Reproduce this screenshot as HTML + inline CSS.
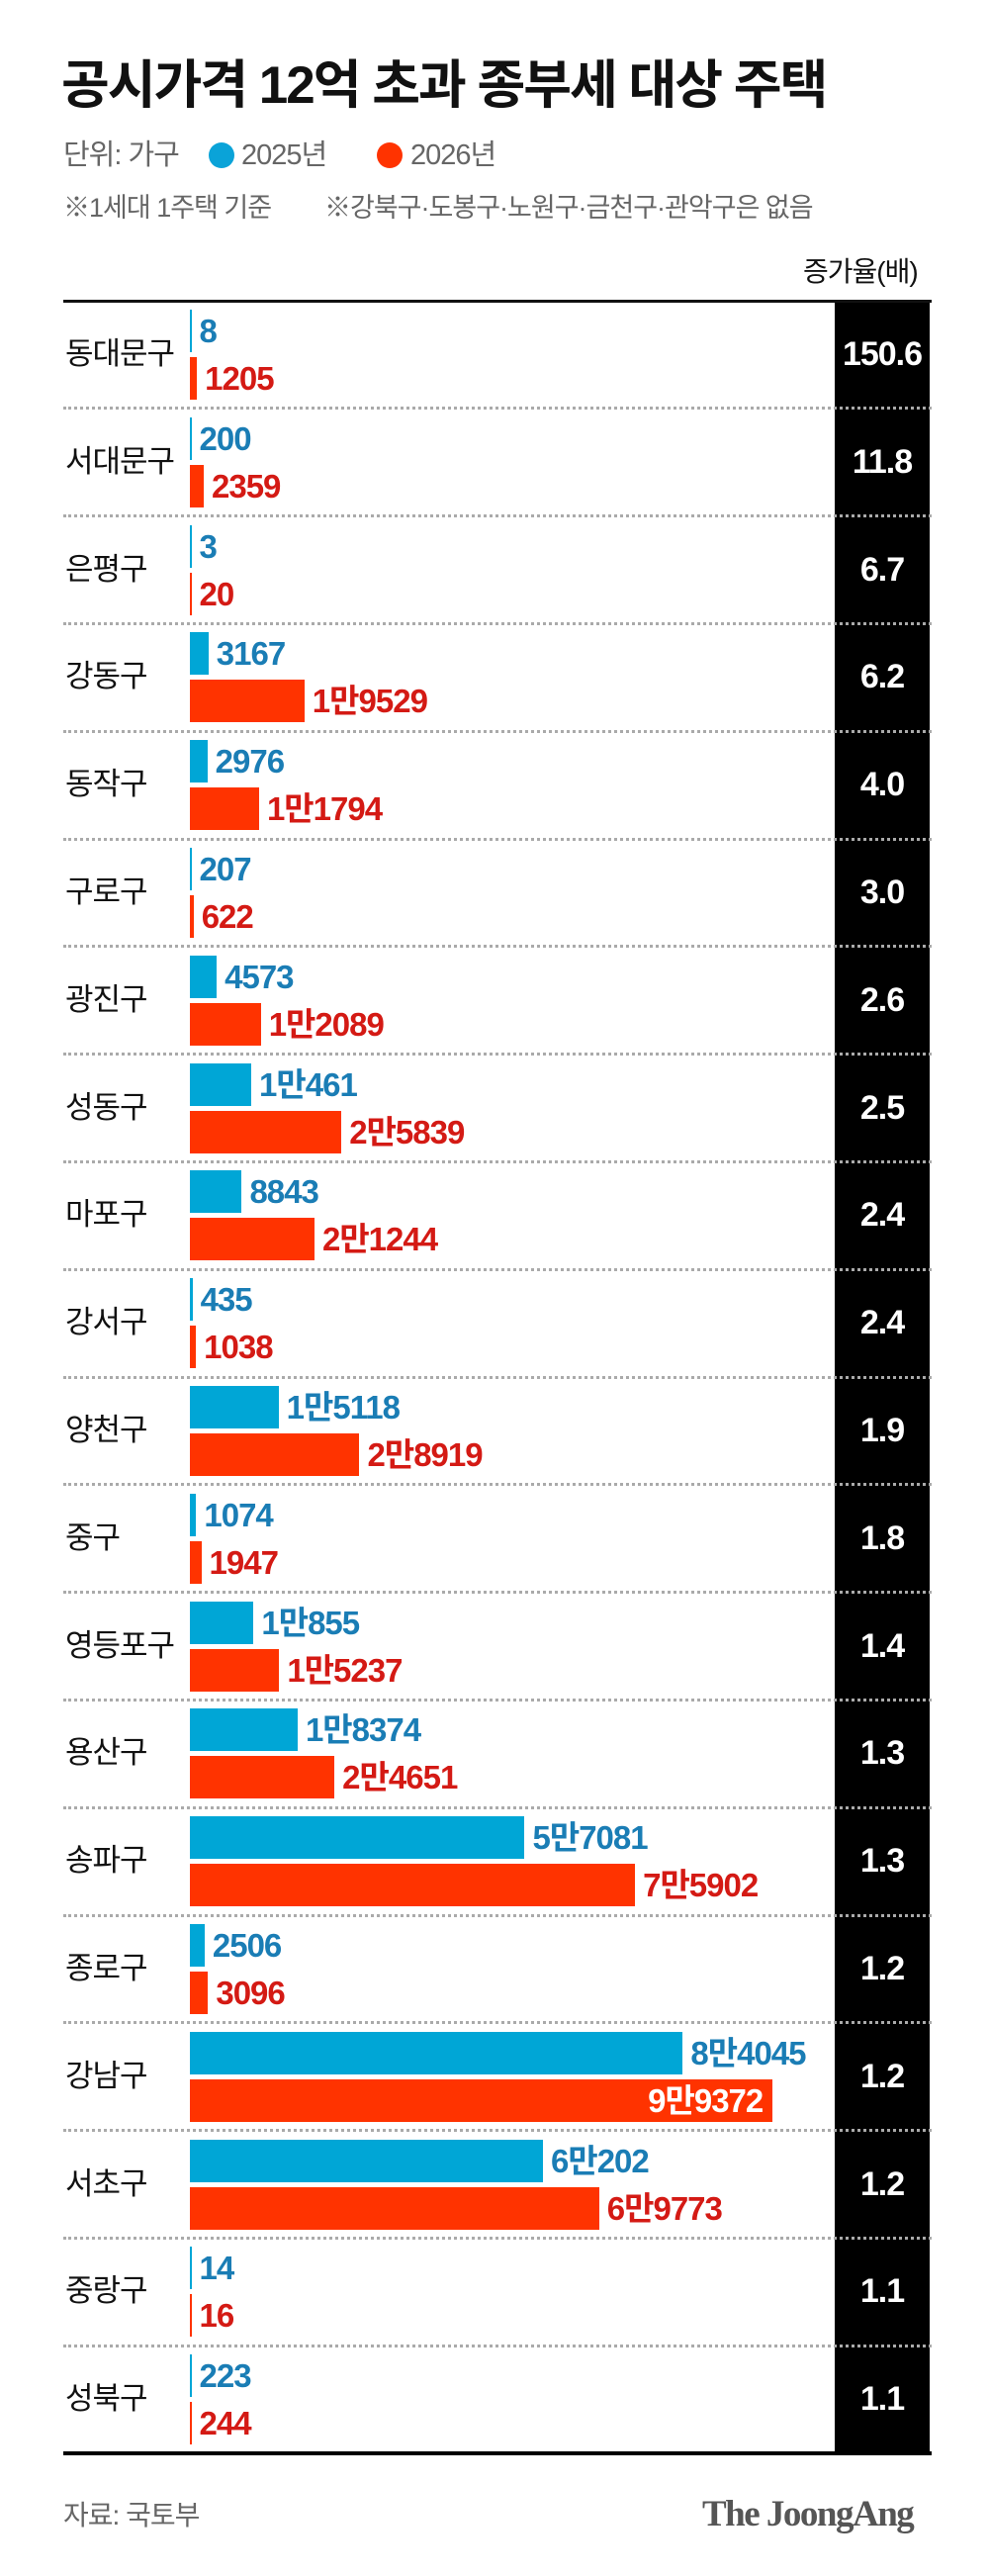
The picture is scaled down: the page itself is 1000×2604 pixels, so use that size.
<!DOCTYPE html>
<html><head><meta charset="utf-8"><style>
*{margin:0;padding:0;box-sizing:border-box}
body{width:1000px;height:2604px;background:#fff;position:relative;overflow:hidden;font-family:"Liberation Sans","Noto Sans CJK KR",sans-serif}
.a{position:absolute;white-space:nowrap}
.title{left:62px;top:52px;font-size:53px;font-weight:bold;color:#111;letter-spacing:-2px;line-height:70px}
.leg{top:140px;font-size:29px;color:#666;line-height:34px;letter-spacing:-1px}
.note{top:193px;font-size:27px;color:#666;line-height:34px;letter-spacing:-1px}
.dot{width:26px;height:26px;border-radius:50%}
.lbl{left:66px;font-size:31px;color:#111;line-height:40px;letter-spacing:-1px}
.bar{left:192px;height:43px}
.b{background:#00a6d6}.r{background:#ff3300}
.v{font-size:33px;font-weight:bold;line-height:43px;letter-spacing:-1px}
.vb{color:#1a7db5}.vr{color:#d41a14}
.sep{left:64px;width:878px;height:0;border-top:3px dotted #aaa}
.rat{left:844px;width:96px;text-align:center;color:#fff;font-size:34px;font-weight:bold;line-height:40px;letter-spacing:-1px}
</style></head><body>
<div class="a title">공시가격 12억 초과 종부세 대상 주택</div>
<div class="a leg" style="left:64px">단위: 가구</div>
<div class="a dot" style="left:211px;top:144px;background:#0aa3d8"></div>
<div class="a leg" style="left:244px">2025년</div>
<div class="a dot" style="left:381px;top:144px;background:#ff3300"></div>
<div class="a leg" style="left:415px">2026년</div>
<div class="a note" style="left:64px">※1세대 1주택 기준</div>
<div class="a note" style="left:328px">※강북구·도봉구·노원구·금천구·관악구은 없음</div>
<div class="a" style="left:812px;top:258px;font-size:28px;color:#111;line-height:34px;letter-spacing:-1px">증가율(배)</div>
<div class="a" style="left:844px;top:304px;width:96px;height:2178px;background:#000"></div>
<div class="a" style="left:64px;top:303px;width:878px;height:3px;background:#111"></div>
<div class="a" style="left:64px;top:2478px;width:878px;height:4px;background:#000"></div>
<div id="rows"></div>
<div class="a" style="left:64px;top:2526px;font-size:28px;color:#666;line-height:34px;letter-spacing:-1px">자료: 국토부</div>
<div class="a" style="left:710px;top:2522px;font-family:'Liberation Serif',serif;font-weight:bold;font-size:37px;color:#555;letter-spacing:-1.5px;line-height:40px">The JoongAng</div>
<script>
var d=[["동대문구",8,"8",1205,"1205","150.6"],["서대문구",200,"200",2359,"2359","11.8"],["은평구",3,"3",20,"20","6.7"],["강동구",3167,"3167",19529,"1만9529","6.2"],["동작구",2976,"2976",11794,"1만1794","4.0"],["구로구",207,"207",622,"622","3.0"],["광진구",4573,"4573",12089,"1만2089","2.6"],["성동구",10461,"1만461",25839,"2만5839","2.5"],["마포구",8843,"8843",21244,"2만1244","2.4"],["강서구",435,"435",1038,"1038","2.4"],["양천구",15118,"1만5118",28919,"2만8919","1.9"],["중구",1074,"1074",1947,"1947","1.8"],["영등포구",10855,"1만855",15237,"1만5237","1.4"],["용산구",18374,"1만8374",24651,"2만4651","1.3"],["송파구",57081,"5만7081",75902,"7만5902","1.3"],["종로구",2506,"2506",3096,"3096","1.2"],["강남구",84045,"8만4045",99372,"9만9372","1.2"],["서초구",60202,"6만202",69773,"6만9773","1.2"],["중랑구",14,"14",16,"16","1.1"],["성북구",223,"223",244,"244","1.1"]];
var h="",k=0.00593;
d.forEach(function(r,i){var t=304+i*108.8;
var wb=Math.max(1.5,r[1]*k),wr=Math.max(1.5,r[3]*k);
if(i>0)h+='<div class="a sep" style="top:'+(t-1.5)+'px"></div>';
h+='<div class="a lbl" style="top:'+(t+34)+'px">'+r[0]+'</div>';
h+='<div class="a bar b" style="top:'+(t+9)+'px;width:'+wb+'px"></div>';
h+='<div class="a bar r" style="top:'+(t+57)+'px;width:'+wr+'px"></div>';
h+='<div class="a v vb" style="top:'+(t+9)+'px;left:'+(192+wb+8)+'px">'+r[2]+'</div>';
if(r[3]>90000)h+='<div class="a v" style="color:#fff;top:'+(t+57)+'px;right:'+(1000-192-wr+10)+'px">'+r[4]+'</div>';
else h+='<div class="a v vr" style="top:'+(t+57)+'px;left:'+(192+wr+8)+'px">'+r[4]+'</div>';
h+='<div class="a rat" style="top:'+(t+34)+'px">'+r[5]+'</div>';});
document.getElementById("rows").innerHTML=h;
</script>
</body></html>
